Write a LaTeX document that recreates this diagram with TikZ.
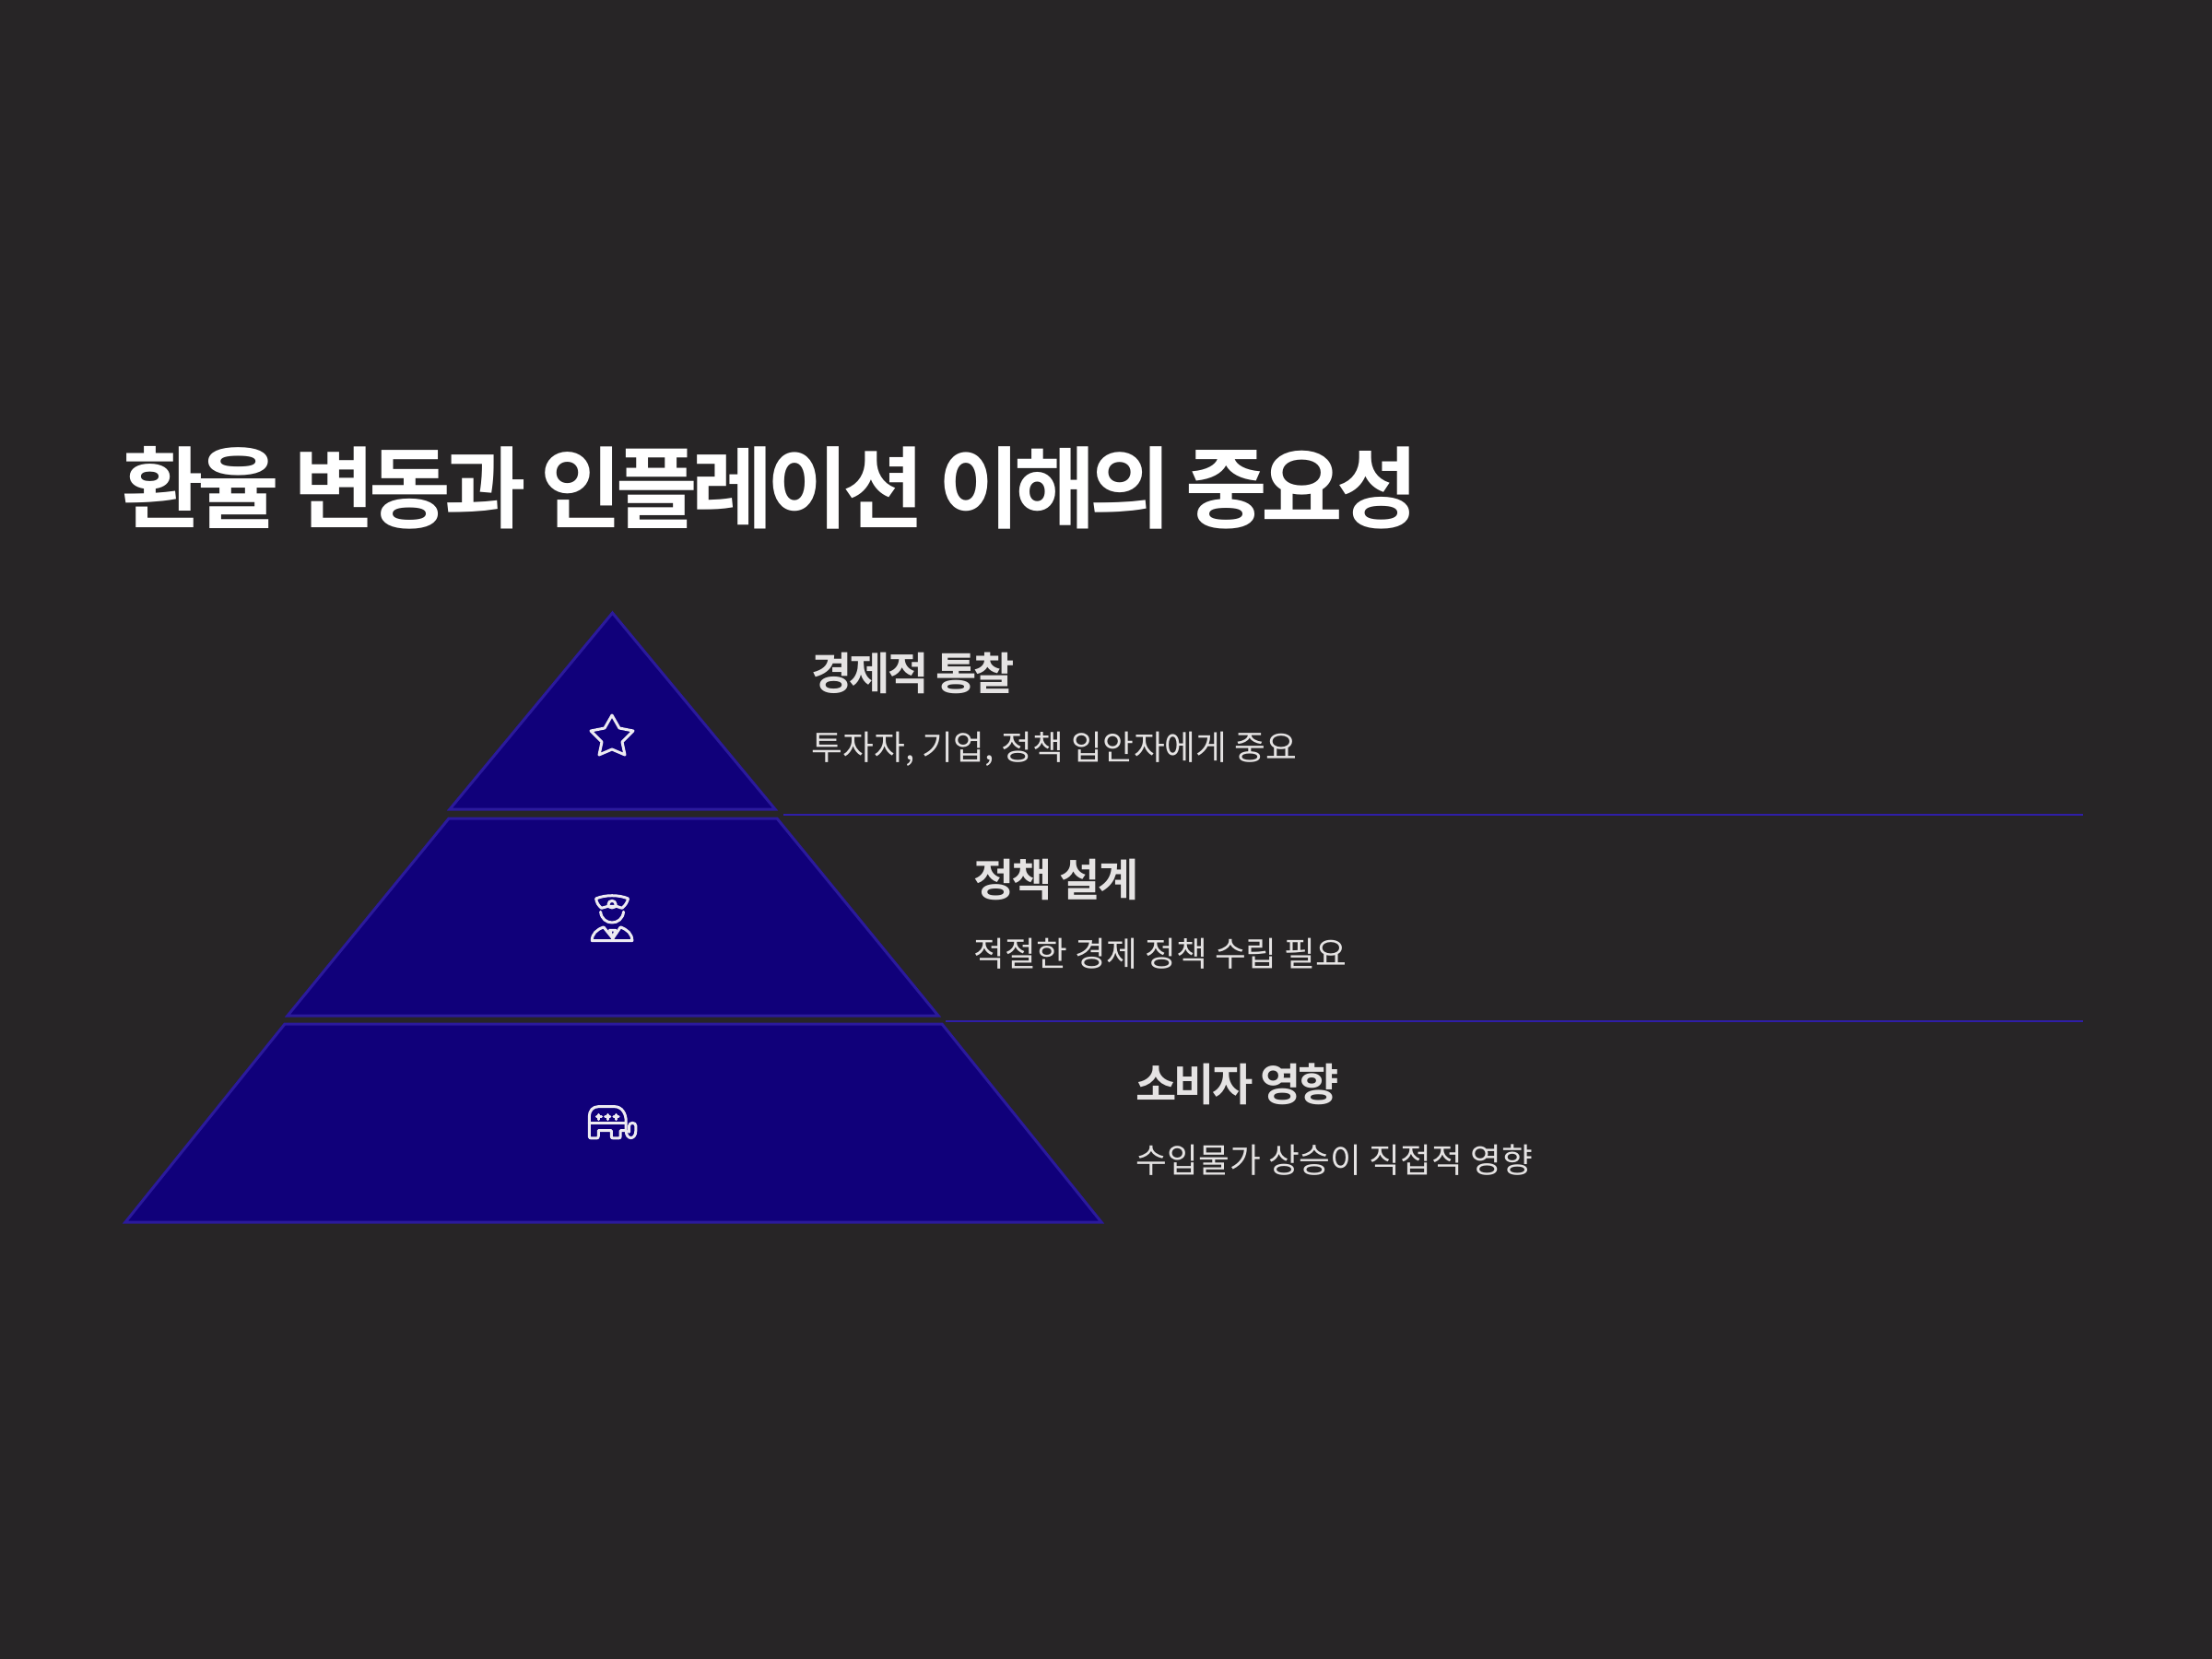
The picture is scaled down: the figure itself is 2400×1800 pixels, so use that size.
\documentclass[tikz,border=0pt]{standalone}
\usepackage{fontspec}
\setmainfont{Noto Sans CJK KR}[BoldFont={Noto Sans CJK KR Bold}]
\newfontfamily\titlefont{Noto Sans CJK KR Bold}[LetterSpace=-6.9]
\newfontfamily\headfont{Noto Sans CJK KR Bold}[LetterSpace=-6.6]
\definecolor{bgc}{HTML}{272526}
\definecolor{tierfill}{HTML}{10007A}
\definecolor{tierline}{HTML}{2B1A9C}
\definecolor{dividerc}{HTML}{2F1EA8}
\definecolor{headc}{HTML}{E5E3E3}
\definecolor{iconc}{HTML}{EDEBF2}
\tikzset{
 tier/.style={fill=tierfill,draw=tierline,line width=0.85pt,line join=miter},
 divider/.style={draw=dividerc,line width=0.8pt},
 title/.style={anchor=base west,inner sep=0,text=white,font=\fontsize{27.4pt}{30pt}\titlefont},
 heading/.style={anchor=base west,inner sep=0,text=headc,font=\fontsize{13.7pt}{16pt}\headfont},
 body/.style={anchor=base west,inner sep=0,text=headc,font=\fontsize{10.45pt}{13pt}\selectfont},
 icon/.style={draw=iconc,line width=0.85pt,line cap=round,line join=round},
}
\begin{document}
\begin{tikzpicture}[x=0.01cm,y=-0.01cm]
\fill[bgc] (0,0) rectangle (2400,1800);
\useasboundingbox (0,0) rectangle (2400,1800);
\node[title] (ttl) at (132,565) {환율 변동과 인플레이션 이해의 중요성};
% tiers
\draw[tier] (664.5,665) -- (841,878) -- (488,878) -- cycle;
\draw[tier] (487,888) -- (843,888) -- (1018,1102) -- (312,1102) -- cycle;
\draw[tier] (309,1111) -- (1022,1111) -- (1195,1326) -- (136,1326) -- cycle;
% dividers
\coordinate (d1a) at (850,884); \coordinate (d1b) at (2260,884);
\coordinate (d2a) at (1026,1108); \coordinate (d2b) at (2260,1108);
\draw[divider] (d1a) -- (d1b);
\draw[divider] (d2a) -- (d2b);
% star
\draw[icon] (664,776) -- (672,790) -- (687,793) -- (675,805) -- (678,819) -- (664,813) -- (650,819) -- (653,805) -- (641,793) -- (656,790) -- cycle;
% officer
\begin{scope}[shift={(610,950)},x=0.00333cm,y=-0.00333cm]
\draw[icon] (110,75) .. controls (140,62) and (185,62) .. (215,75) .. controls (212,88) and (205,98) .. (195,106) -- (176,100) -- (150,100) -- (128,106) .. controls (118,98) and (112,88) .. (110,75) -- cycle;
\draw[icon] (150,95) .. controls (150,78) and (175,78) .. (175,95) .. controls (175,108) and (150,108) .. (150,95) -- cycle;
\draw[icon] (125,118) .. controls (130,165) and (195,165) .. (200,118);
\draw[icon] (97,212) -- (228,212) .. controls (228,190) and (212,176) .. (190,168) -- (165,205) -- (135,168) .. controls (112,176) and (97,190) .. (97,212) -- cycle;
\draw[icon] (155,178) -- (174,178) -- (165,205) -- cycle;
\end{scope}
% elephant
\begin{scope}[shift={(610,1180)},x=0.00333cm,y=-0.00333cm]
\draw[icon] (88,158) .. controls (88,163) and (90,165) .. (94,165) -- (112,165) .. controls (116,165) and (118,163) .. (118,158) -- (118,140) -- (160,140) -- (160,158) .. controls (160,163) and (162,165) .. (166,165) -- (184,165) .. controls (188,165) and (190,163) .. (190,158) -- (190,140) -- (208,140) -- (208,110) .. controls (208,85) and (195,62) .. (170,62) -- (118,62) .. controls (100,62) and (88,75) .. (88,95) -- cycle;
\draw[icon] (88,117) -- (208,117);
\draw[icon] (208,140) .. controls (208,172) and (240,172) .. (240,140) -- (240,125) .. controls (240,112) and (218,112) .. (218,125) -- (218,145);
\foreach \cx in {120,148,176}{
 \draw[icon] (\cx-8,96) -- (\cx+8,96);
 \draw[icon] (\cx,88) -- (\cx,104);
}
\end{scope}
% labels
\node[heading] (h1) at (880,748) {경제적 통찰};
\node[body] (b1) at (880,824) {투자자, 기업, 정책 입안자에게 중요};
\node[heading] (h2) at (1056,972) {정책 설계};
\node[body] (b2) at (1056,1048) {적절한 경제 정책 수립 필요};
\node[heading] (h3) at (1232,1194) {소비자 영향};
\node[body] (b3) at (1232,1272) {수입물가 상승이 직접적 영향};
\end{tikzpicture}
\end{document}
